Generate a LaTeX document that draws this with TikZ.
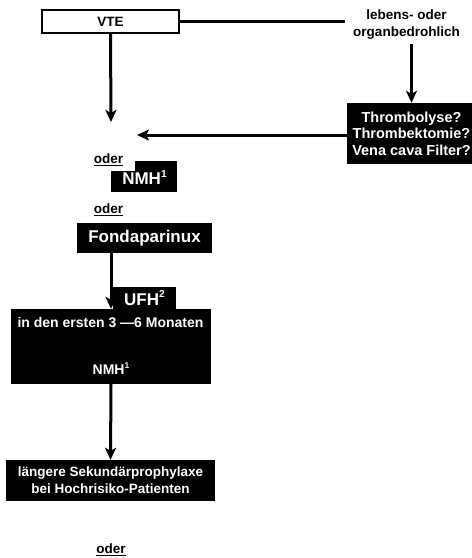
\documentclass[tikz,border=0pt]{standalone}
\usepackage{fontspec}
\setmainfont{Liberation Sans}
\usetikzlibrary{arrows.meta}
\newcommand{\fnmark}[1]{\raisebox{0.42em}{\scalebox{0.6}{#1}}}

\begin{document}
\begin{tikzpicture}[x=1pt,y=-1pt,
  txt/.style={font=\fontsize{13.5}{17}\selectfont\bfseries, align=center, inner sep=0pt},
  bigtxt/.style={font=\fontsize{17}{20}\selectfont\bfseries, text=white, inner sep=0pt},
  blackbox/.style={fill=black, text=white, inner sep=0pt, align=center, font=\fontsize{14}{16.5}\selectfont\bfseries},
  conn/.style={line width=3pt},
  arr/.style={line width=3pt, -{Stealth[length=12pt,width=11pt,inset=3pt]}}]
\useasboundingbox (0,0) rectangle (472,558);

% top row
\draw(110.5,21.5) node[draw, line width=2pt, minimum width=137pt, minimum height=23pt, txt] (vte) {VTE};
\draw(406.5,25) node[txt] (threat) {lebens- oder\\organbedrohlich};
\draw(411.5,133.5) node[blackbox, minimum width=129pt, minimum height=61pt, font=\fontsize{14.5}{16.5}\selectfont\bfseries] (lyse) {Thrombolyse?\\Thrombektomie?\\Vena cava Filter?};
\coordinate (start) at (111,122);
\coordinate (back) at (137,135);

\draw[conn, shorten >=8pt] (vte.east) -- (threat.west |- vte.east);
\draw[arr] (lyse.north |- threat.south) ++(0,4) -- (lyse.north);
\draw[arr] (vte.south) -- (start);
\draw[arr] (lyse.west |- back) -- (back);

% NMH / Fondaparinux
\draw(108.5,160) node[txt] (oder1) {\underline{oder}};
\fill (111,171) rectangle (177,192);
\fill (135,161) rectangle (177,171);
\draw(144.5,177.5) node[bigtxt] (nmh) {NMH\fnmark{1}};
\draw(108.5,210) node[txt] (oder2) {\underline{oder}};
\draw(144.5,238) node[blackbox, minimum width=135pt, minimum height=30pt, font=\fontsize{17}{20}\selectfont\bfseries] (fonda) {Fondaparinux};

% UFH and first months
\draw(111,346.5) node[blackbox, minimum width=200pt, minimum height=75pt] (months) {};
\draw[arr] (months.north |- fonda.south) -- (months.north);
\draw(144.5,298) node[blackbox, minimum width=63pt, minimum height=22pt, font=\fontsize{17}{20}\selectfont\bfseries] (ufh) {UFH\fnmark{2}};
\draw(110.5,323) node[blackbox] (mtext) {in den ersten 3 —6 Monaten};
\draw(111,369) node[blackbox] (nmh2) {NMH\fnmark{1}};

% secondary prophylaxis
\draw(110.5,480.5) node[blackbox, minimum width=209pt, minimum height=41pt, font=\fontsize{13.5}{17}\selectfont\bfseries] (longer) {längere Sekundärprophylaxe\\bei Hochrisiko-Patienten};
\draw[arr] (months.south) -- (longer.north);
\draw(111,550) node[txt] (oder3) {\underline{oder}};
\end{tikzpicture}
\end{document}
